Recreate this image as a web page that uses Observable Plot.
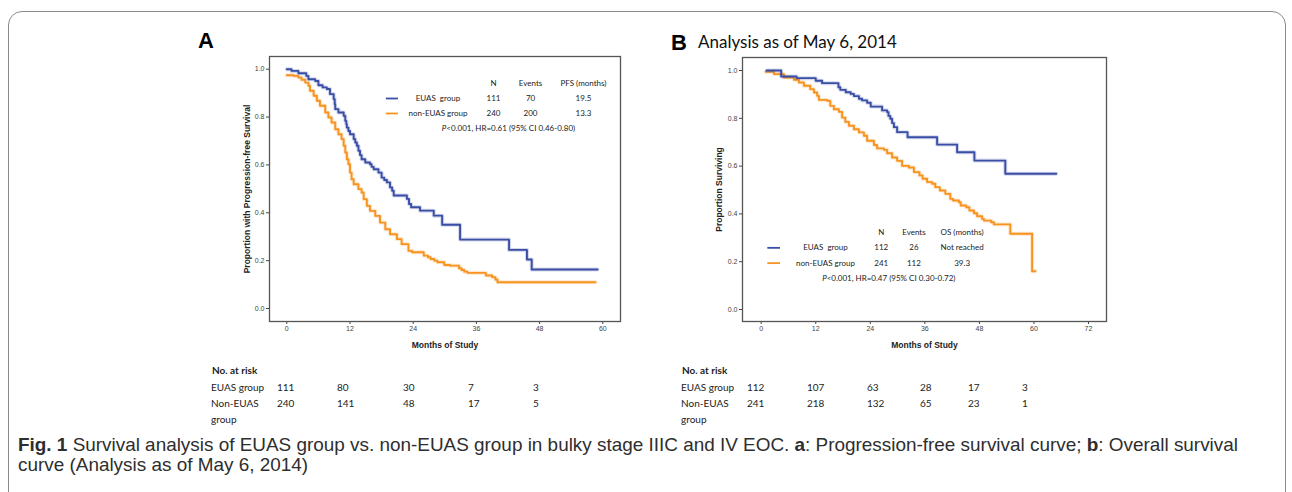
<!DOCTYPE html>
<html>
<head>
<meta charset="utf-8">
<script src="https://cdn.jsdelivr.net/npm/d3@7"></script>
<script src="https://cdn.jsdelivr.net/npm/@observablehq/plot@0.6"></script>
<style>
  body { margin: 0; background: #fff; }
  #page { position: relative; width: 1292px; height: 492px; overflow: hidden; background: #fff;
          font-family: "Liberation Sans", Arial, sans-serif; color: #222; }
  .card { position: absolute; left: 8px; top: 11px; width: 1278px; height: 540px;
          border: 1.5px solid #8a8a8a; border-radius: 14px; box-sizing: border-box; }
  .abs { position: absolute; white-space: nowrap; }
  .panel-letter { font-family: "Liberation Sans", Arial, sans-serif; font-weight: bold; font-size: 22px; line-height: 22px; color: #000; }
  .panel-title { font-family: Lato, "Open Sans", sans-serif; font-size: 17px; line-height: 17px; color: #111; }
  .risk { font-family: Lato, "Open Sans", sans-serif; font-size: 10px; line-height: 16px; height: 16px; color: #222; }
  .risk b { font-weight: bold; }
  .caption { font-family: "Liberation Sans", Arial, sans-serif;
             font-size: 18.5px; line-height: 20px; color: #2e2e2e; transform-origin: 0 50%; }
  .plot { position: absolute; }
</style>
</head>
<body>
<div id="page">
  <div class="card"></div>
</div>
<script>
// ---- Kaplan–Meier step points: [months, proportion] ----
// Panel a: progression-free survival
const pfsEuas = [
  [0,1.0],[0.9,0.993],[2.2,0.983],[3.7,0.972],[4.1,0.958],[5.4,0.951],[6.0,0.933],[6.8,0.924],
  [7.6,0.917],[8.2,0.896],[8.9,0.875],[9.1,0.854],[9.2,0.833],[9.8,0.819],[10.8,0.805],[11.1,0.784],
  [11.3,0.770],[11.4,0.756],[11.7,0.742],[12.0,0.728],[12.7,0.708],[13.0,0.694],[13.3,0.680],
  [13.6,0.659],[13.9,0.641],[14.2,0.624],[14.9,0.610],[15.8,0.603],[16.1,0.592],[16.5,0.582],
  [17.4,0.568],[18.0,0.547],[18.5,0.537],[19.0,0.527],[19.6,0.506],[20.0,0.492],[20.3,0.472],
  [22.8,0.458],[23.2,0.437],[23.6,0.423],[25.3,0.409],[27.9,0.388],[29.5,0.350],[32.9,0.288],
  [42.2,0.245],[45.6,0.205],[46.5,0.163],[59.0,0.163]
];
const pfsNonEuas = [
  [0,0.975],[1.3,0.972],[2.2,0.965],[2.8,0.956],[3.5,0.944],[4.1,0.931],[4.4,0.910],[5.1,0.889],
  [5.7,0.868],[6.3,0.847],[7.3,0.819],[7.9,0.798],[8.5,0.777],[9.2,0.749],[9.8,0.728],[10.4,0.708],
  [10.8,0.680],[11.1,0.652],[11.4,0.624],[11.7,0.603],[12.0,0.568],[12.3,0.540],[12.7,0.519],
  [13.6,0.499],[14.2,0.485],[14.6,0.457],[15.2,0.429],[15.8,0.408],[16.8,0.387],[17.7,0.359],
  [18.7,0.331],[19.6,0.310],[20.9,0.290],[21.8,0.269],[23.1,0.241],[23.8,0.235],[26.0,0.221],
  [26.8,0.214],[27.3,0.207],[28.0,0.200],[28.6,0.193],[29.9,0.182],[31.0,0.179],[32.7,0.168],
  [33.2,0.161],[33.7,0.154],[34.3,0.149],[37.8,0.138],[39.0,0.131],[39.6,0.121],[40.0,0.110],
  [58.6,0.110]
];
// Panel b: overall survival
const osEuas = [
  [1.2,1.0],[4.4,0.975],[7.8,0.968],[12.0,0.957],[13.4,0.947],[17.0,0.930],[17.4,0.919],[18.6,0.909],
  [19.7,0.902],[20.4,0.893],[21.5,0.882],[22.2,0.875],[23.3,0.865],[24.1,0.849],[26.6,0.833],
  [27.7,0.826],[28.0,0.810],[28.4,0.798],[28.8,0.780],[29.2,0.763],[29.9,0.742],[32.2,0.721],
  [38.7,0.690],[43.1,0.658],[46.9,0.623],[53.7,0.568],[64.9,0.568]
];
const osNonEuas = [
  [1.0,0.995],[2.8,0.985],[5.0,0.971],[7.2,0.961],[8.3,0.950],[9.4,0.936],[10.8,0.922],[11.6,0.908],
  [12.3,0.894],[12.7,0.877],[14.5,0.873],[15.2,0.852],[16.0,0.838],[17.1,0.827],[17.8,0.803],
  [18.5,0.785],[19.3,0.769],[20.4,0.754],[21.5,0.741],[22.6,0.727],[23.3,0.706],[24.8,0.688],
  [25.5,0.674],[27.0,0.668],[27.7,0.654],[28.8,0.636],[29.9,0.622],[31.0,0.601],[32.5,0.594],
  [33.6,0.575],[34.8,0.561],[35.5,0.547],[36.5,0.533],[37.6,0.526],[38.3,0.512],[39.3,0.498],
  [40.5,0.484],[41.6,0.463],[42.2,0.456],[43.5,0.449],[43.9,0.435],[45.1,0.428],[45.8,0.414],
  [46.8,0.403],[47.5,0.390],[48.6,0.379],[49.0,0.372],[50.6,0.365],[51.2,0.356],[54.8,0.317],
  [59.6,0.160],[60.3,0.160]
];

// ---- axis ticks ----
const xTicksA = [0, 12, 24, 36, 48, 60];
const xTicksB = [0, 12, 24, 36, 48, 60, 72];
const yTicks = [0, 0.2, 0.4, 0.6, 0.8, 1.0];

// ---- legend tables ----
const groupNames = ["EUAS  group", "non-EUAS group"];
const legendHeadA = ["N", "Events", "PFS (months)"];
const legendRowsA = [["111", "70", "19.5"], ["240", "200", "13.3"]];
const statA = "P<0.001, HR=0.61 (95% CI 0.46-0.80)";
const legendHeadB = ["N", "Events", "OS (months)"];
const legendRowsB = [["112", "26", "Not reached"], ["241", "112", "39.3"]];
const statB = "P<0.001, HR=0.47 (95% CI 0.30-0.72)";

// ---- numbers at risk ----
const riskLabels = ["EUAS group", "Non-EUAS", "group"];
const riskEuasA = ["111", "80", "30", "7", "3"];
const riskNonA = ["240", "141", "48", "17", "5"];
const riskEuasB = ["112", "107", "63", "28", "17", "3"];
const riskNonB = ["241", "218", "132", "65", "23", "1"];

// ---- text ----
const titleB = "Analysis as of May 6, 2014";
const xTitle = "Months of Study";
const yTitleA = "Proportion with Progression-free Survival";
const yTitleB = "Proportion Surviving";

const BLUE = "#3a4ea6";
const ORANGE = "#f7931e";
const page = document.getElementById("page");

function toRows(arr) { return arr.map(([t, s]) => ({t, s})); }

function kmLines(data, color) {
  return [
    Plot.line(toRows(data), {x: "t", y: "s", curve: "step-after", stroke: color, strokeWidth: 4, strokeOpacity: 0.22}),
    Plot.line(toRows(data), {x: "t", y: "s", curve: "step-after", stroke: color, strokeWidth: 1.9})
  ];
}

function legendMarks(cfg) {
  const f = {fontFamily: "Lato, 'Open Sans', sans-serif", fontSize: 8, fill: "#222"};
  const marks = [];
  cfg.head.forEach((h, i) => marks.push(Plot.text([h], {x: cfg.cols[i], y: cfg.rowsY[0], text: d => d, ...f})));
  cfg.rows.forEach((row, r) => {
    const y = cfg.rowsY[r + 1];
    marks.push(Plot.ruleY([y], {x1: cfg.sample[0], x2: cfg.sample[1], stroke: r === 0 ? BLUE : ORANGE, strokeWidth: 1.8}));
    marks.push(Plot.text([groupNames[r]], {x: cfg.nameX, y, text: d => d, ...f}));
    row.forEach((v, i) => marks.push(Plot.text([v], {x: cfg.cols[i], y, text: d => d, ...f})));
  });
  marks.push(Plot.text([cfg.stat], {x: cfg.statX, y: cfg.rowsY[3], text: d => d, ...f}));
  return marks;
}

function axisTitles(yTitle, dxY) {
  const f = {fontFamily: "'Liberation Sans', Arial, sans-serif", fontWeight: "bold", fontSize: 8.5, fill: "#222",
             textAnchor: "middle", lineAnchor: "middle"};
  return [
    Plot.text([xTitle], {frameAnchor: "bottom", dy: 24, text: d => d, ...f}),
    Plot.text([yTitle], {frameAnchor: "left", dx: dxY, rotate: -90, text: d => d, ...f})
  ];
}

function italicP(svg, stat) {
  d3.select(svg).selectAll("text").each(function () {
    if (this.textContent === stat) {
      const el = d3.select(this);
      el.text(null);
      el.append("tspan").attr("font-style", "italic").text("P");
      el.append("tspan").text(stat.slice(1));
    }
  });
}

const common = {
  style: {fontFamily: "'Liberation Sans', Arial, sans-serif", fontSize: "7px", color: "#444", background: "transparent", overflow: "visible"}
};

// Panel a
const plotA = Plot.plot({
  ...common,
  width: 440, height: 310, marginLeft: 69, marginRight: 20, marginTop: 6, marginBottom: 39,
  x: {domain: [-3.285, 63.36], ticks: xTicksA, tickSize: 3, tickPadding: 2, label: null},
  y: {domain: [-0.0543, 1.0531], ticks: yTicks, tickFormat: d3.format(".1f"), tickSize: 3, tickPadding: 2, label: null},
  marks: [
    Plot.frame({stroke: "#555", strokeWidth: 1.3}),
    ...kmLines(pfsNonEuas, ORANGE),
    ...kmLines(pfsEuas, BLUE),
    ...legendMarks({head: legendHeadA, rows: legendRowsA, stat: statA,
      cols: [39.25, 46.28, 56.33], rowsY: [0.940, 0.8776, 0.815, 0.752],
      sample: [18.9, 21.2], nameX: 28.7, statX: 42.1}),
    ...axisTitles(yTitleA, -22)
  ]
});
plotA.classList.add("plot");
plotA.style.left = "200px"; plotA.style.top = "50px";
page.appendChild(plotA);
italicP(plotA, statA);

// Panel b
const plotB = Plot.plot({
  ...common,
  width: 450, height: 310, marginLeft: 72, marginRight: 14, marginTop: 7, marginBottom: 39,
  x: {domain: [-4.11, 75.96], ticks: xTicksB, tickSize: 3, tickPadding: 2, label: null},
  y: {domain: [-0.0502, 1.0544], ticks: yTicks, tickFormat: d3.format(".1f"), tickSize: 3, tickPadding: 2, label: null},
  marks: [
    Plot.frame({stroke: "#555", strokeWidth: 1.3}),
    ...kmLines(osNonEuas, ORANGE),
    ...kmLines(osEuas, BLUE),
    ...legendMarks({head: legendHeadB, rows: legendRowsB, stat: statB,
      cols: [26.4, 33.6, 44.2], rowsY: [0.324, 0.258, 0.194, 0.131],
      sample: [1.46, 4.25], nameX: 14.15, statX: 28.07}),
    ...axisTitles(yTitleB, -23)
  ]
});
plotB.classList.add("plot");
plotB.style.left = "670px"; plotB.style.top = "50px";
page.appendChild(plotB);
italicP(plotB, statB);

// Panel headings
function addDiv(cls, left, top, html) {
  const d = document.createElement("div");
  d.className = "abs " + cls;
  d.style.left = left + "px"; d.style.top = top + "px";
  d.innerHTML = html;
  page.appendChild(d);
  return d;
}
addDiv("panel-letter", 198, 30, "A");
addDiv("panel-letter", 671, 32, "B");
addDiv("panel-title", 698, 33, titleB);

// Numbers-at-risk tables
function riskTable(x0, cols, euas, non) {
  addDiv("risk", x0 + 1, 362, "<b>No. at risk</b>");
  addDiv("risk", x0, 379, riskLabels[0]);
  addDiv("risk", x0, 395, riskLabels[1]);
  addDiv("risk", x0, 411, riskLabels[2]);
  euas.forEach((v, i) => addDiv("risk", cols[i], 379, v));
  non.forEach((v, i) => addDiv("risk", cols[i], 395, v));
}
riskTable(211, [277, 337, 403, 468, 533], riskEuasA, riskNonA);
riskTable(681, [747, 807, 867, 920, 968, 1022], riskEuasB, riskNonB);

// Figure caption: two lines, squeezed horizontally to the column width
const cap1 = addDiv("caption", 18, 435,
  "<b>Fig. 1</b> Survival analysis of EUAS group vs. non-EUAS group in bulky stage IIIC and IV EOC. <b>a</b>: Progression-free survival curve; <b>b</b>: Overall survival");
const cap2 = addDiv("caption", 18, 455, "curve (Analysis as of May 6, 2014)");
const k = 1220 / cap1.getBoundingClientRect().width;
cap1.style.transform = `scaleX(${k})`;
cap2.style.transform = `scaleX(${k})`;
</script>
</body>
</html>
